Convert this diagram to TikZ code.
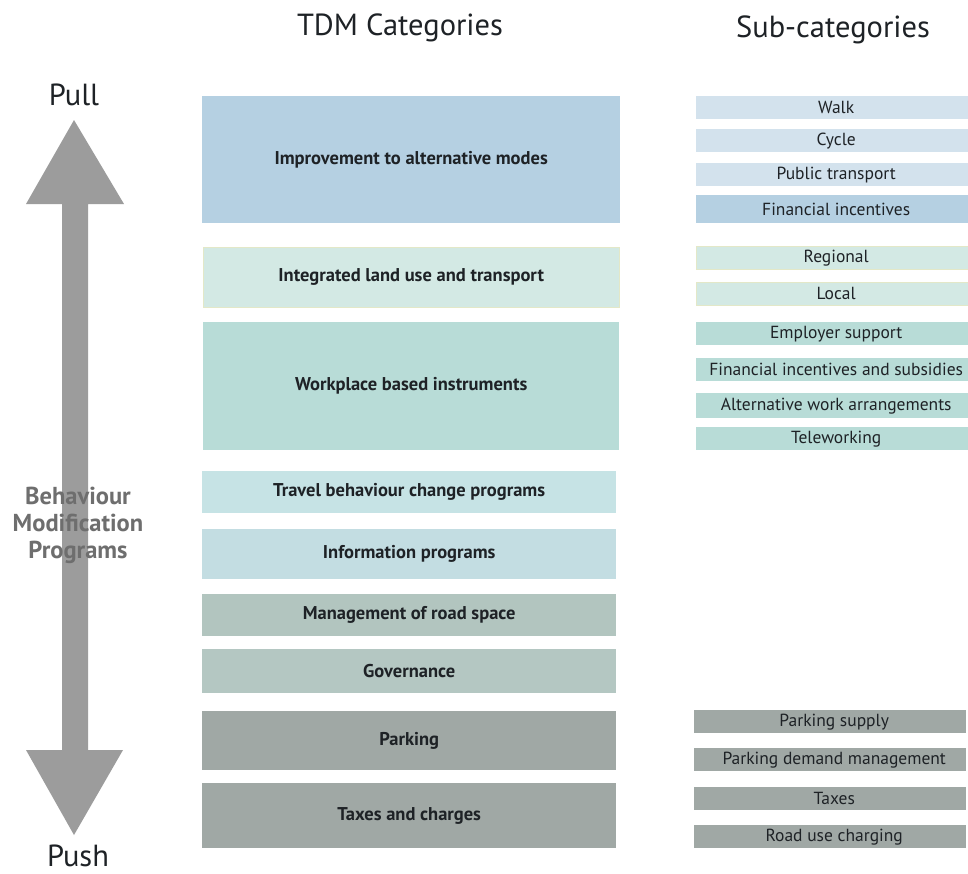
\documentclass[tikz,border=0pt]{standalone}
\usepackage{fontspec}
\setmainfont{PT Sans}
\definecolor{cImp}{HTML}{B5D0E2}
\definecolor{cImpL}{HTML}{D3E2ED}
\definecolor{cInt}{HTML}{D3E9E4}
\definecolor{cIntB}{HTML}{E3E8C8}
\definecolor{cWork}{HTML}{B8DCD7}
\definecolor{cTrav}{HTML}{C6E3E5}
\definecolor{cInfo}{HTML}{C3DDE2}
\definecolor{cMan}{HTML}{B2C5BF}
\definecolor{cGov}{HTML}{B4C7C2}
\definecolor{cPark}{HTML}{A0A8A5}
\definecolor{cArrow}{HTML}{9C9C9C}
\definecolor{cBeh}{HTML}{6E6E6E}
\definecolor{cTxt}{HTML}{1E2226}
\begin{document}
\begin{tikzpicture}[x=1pt,y=-1pt,
  cat/.style={inner sep=0pt, anchor=north west, minimum width=416pt, text=cTxt,
    font=\bfseries\fontsize{18.5}{22}\selectfont},
  sub/.style={inner sep=0pt, anchor=north west, minimum width=272pt, text=cTxt,
    font=\fontsize{17.5}{20}\selectfont, execute at begin node={\hspace*{8pt}}},
  title/.style={inner sep=0pt, anchor=base, text=cTxt, font=\fontsize{30.5}{36}\selectfont}]
\useasboundingbox (0,0) rectangle (968,873);
\fill[white] (0,0) rectangle (968,873);
% titles
\node[title] (tdm) at (400,35) {TDM Categories};
\node[title] (subt) at (833,37) {Sub-categories};
\node[title] (pull) at (74,105) {Pull};
\node[title, text depth=0pt] (push) at (78,866) {Push};
% arrow
\fill[cArrow] (74,120) -- (124,204) -- (88,204) -- (88,750) -- (123,750) -- (74,835)
  -- (26,750) -- (62,750) -- (62,204) -- (26,204) -- cycle;
\node[inner sep=0pt, align=center, text=cBeh, font=\bfseries\fontsize{24.5}{27}\selectfont]
  (beh) at (78,525) {Behaviour\\Modification\\Programs};
% categories
\node[cat, fill=cImp, minimum width=418pt, minimum height=127pt] (imp) at (202,96) {Improvement to alternative modes};
\node[cat, fill=cInt, draw=cIntB, minimum height=60pt] (int) at (203,247) {Integrated land use and transport};
\node[cat, fill=cWork, minimum height=128pt] (work) at (203,322) {Workplace based instruments};
\node[cat, fill=cTrav, minimum width=414pt, minimum height=42pt] (trav) at (202,471) {Travel behaviour change programs};
\node[cat, fill=cInfo, minimum width=414pt, minimum height=50pt] (info) at (202,529) {Information programs};
\node[cat, fill=cMan, minimum width=414pt, minimum height=42pt] (man) at (202,594) {Management of road space};
\node[cat, fill=cGov, minimum width=414pt, minimum height=44pt] (gov) at (202,649) {Governance};
\node[cat, fill=cPark, minimum width=414pt, minimum height=59pt] (park) at (202,711) {Parking};
\node[cat, fill=cPark, minimum width=414pt, minimum height=65pt] (tax) at (202,783) {Taxes and charges};
% sub-categories
\node[sub, fill=cImpL, minimum height=23pt] (walk) at (696,96) {Walk};
\node[sub, fill=cImpL, minimum height=23pt] (cyc) at (696,129) {Cycle};
\node[sub, fill=cImpL, minimum height=23pt] (pt) at (696,163) {Public transport};
\node[sub, fill=cImp, minimum height=28pt] (fin) at (696,195) {Financial incentives};
\node[sub, fill=cInt, draw=cIntB, minimum height=23pt] (reg) at (696,246) {Regional};
\node[sub, fill=cInt, draw=cIntB, minimum height=23pt] (loc) at (696,282) {Local};
\node[sub, fill=cWork, minimum height=23pt] (emp) at (696,322) {Employer support};
\node[sub, fill=cWork, minimum height=23pt] (finsub) at (696,358) {Financial incentives and subsidies};
\node[sub, fill=cWork, minimum height=25pt] (alt) at (696,393) {Alternative work arrangements};
\node[sub, fill=cWork, minimum height=23pt] (tele) at (696,427) {Teleworking};
\node[sub, fill=cPark, minimum height=23pt] (psup) at (694,710) {Parking supply};
\node[sub, fill=cPark, minimum height=23pt] (pdem) at (694,748) {Parking demand management};
\node[sub, fill=cPark, minimum height=23pt] (taxes) at (694,787) {Taxes};
\node[sub, fill=cPark, minimum height=23pt] (road) at (694,825) {Road use charging};
\end{tikzpicture}
\end{document}
